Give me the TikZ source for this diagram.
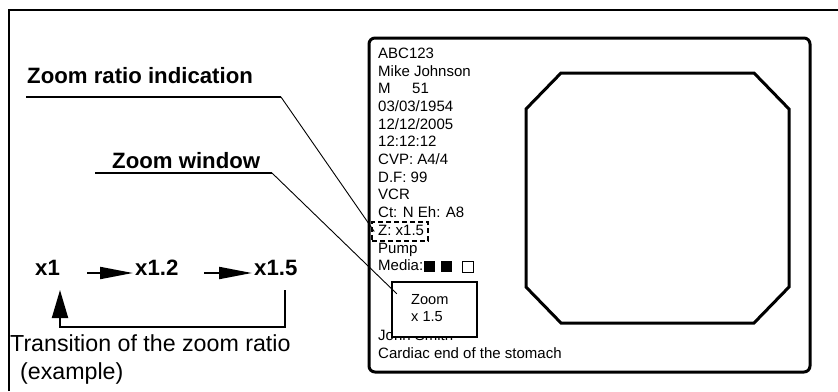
\documentclass[tikz,border=0pt]{standalone}
\usepackage{fontspec}
\setmainfont{Liberation Sans}
\usetikzlibrary{arrows.meta}
\tikzset{
  mtext/.style={anchor=base west, inner sep=0pt, font=\fontsize{15}{18}\selectfont},
  wtext/.style={anchor=base west, inner sep=0pt, font=\fontsize{14.6}{18}\selectfont},
  lab/.style={anchor=base west, inner sep=0pt, font=\bfseries\fontsize{22.2}{26}\selectfont},
  ltext/.style={anchor=base west, inner sep=0pt, font=\fontsize{23.2}{27}\selectfont},
  uline/.style={line width=2pt},
  leader/.style={line width=0.9pt},
  zarrow/.style={line width=2pt, -{Triangle[length=33pt,width=12pt]}},
  backarrow/.style={line width=2pt, -{Triangle[length=28pt,width=16pt]}},
  thickframe/.style={line width=3pt},
}
\begin{document}
\begin{tikzpicture}[x=1pt,y=-1pt]
\useasboundingbox (0,0) rectangle (838,391);
% outer frame (runs off the picture right and bottom)
\draw[line width=2.6pt] (9,391) -- (9,10) -- (838,10);

% monitor
\node[draw, thickframe, rounded corners=6pt, minimum width=441pt, minimum height=334pt, inner sep=0pt] (mon) at (589.5,205) {};
\draw[thickframe] (561,73) -- (754,73) -- (789,109) -- (789,287) -- (754,323) -- (561,323) -- (526,287) -- (526,109) -- cycle;

% monitor text
\node[mtext] (l0) at (378,58.3) {ABC123};
\node[mtext] (l1) at (378,76.0) {Mike Johnson};
\node[mtext] (l2) at (378,93.7) {M};
\node[mtext] (l2b) at (412,93.7) {51};
\node[mtext] (l3) at (378,111.4) {03/03/1954};
\node[mtext] (l4) at (378,129.1) {12/12/2005};
\node[mtext] (l5) at (378,146.8) {12:12:12};
\node[mtext] (l6) at (378,164.5) {CVP: A4/4};
\node[mtext] (l7) at (378,182.2) {D.F: 99};
\node[mtext] (l8) at (378,199.9) {VCR};
\node[mtext] (l9) at (378,217.6) {Ct: N Eh: A8};
\node[mtext] (l10) at (378,235.3) {Z: x1.5};
\node[mtext] (l11) at (378,253.0) {Pump};
\node[mtext] (l12) at (378,270.7) {Media:};
\node[fill=black, minimum size=11pt, inner sep=0pt] (sq1) at (429.5,266.5) {};
\node[fill=black, minimum size=11pt, inner sep=0pt] (sq2) at (446.5,266.5) {};
\node[draw, line width=0.8pt, minimum size=11pt, inner sep=0pt] (sq3) at (467.5,266.5) {};
\node[mtext] (l13) at (378,340) {John Smith};
\node[mtext] (l14) at (378,358) {Cardiac end of the stomach};

% dashed zoom ratio box
\node[draw, dash pattern=on 5pt off 3pt, line width=1.5pt, minimum width=56pt, minimum height=19pt, inner sep=0pt] (zr) at (400,231.5) {};

% zoom window
\node[draw, fill=white, line width=2.5pt, minimum width=85pt, minimum height=55pt, inner sep=0pt] (zw) at (434.5,309.5) {};
\node[wtext] (zw1) at (411,304) {Zoom};
\node[wtext] (zw2) at (411,321.7) {x 1.5};

% labels with underlines and leaders
\node[lab] (lab1) at (27,83.3) {Zoom ratio indication};
\coordinate (u1a) at (26,97);
\coordinate (u1b) at (281,97);
\draw[uline] (u1a) -- (u1b);
\draw[leader] (u1b) -- ([xshift=3pt]zr.west);

\node[lab] (lab2) at (112,168) {Zoom window};
\coordinate (u2a) at (95,173);
\coordinate (u2b) at (272,173);
\draw[uline] (u2a) -- (u2b);
\draw[leader] (u2b) -- ([xshift=6pt,yshift=-13pt]zw.north west);

% zoom ratio transition
\node[lab] (x1) at (35,275) {x1};
\node[lab] (x12) at (135,275) {x1.2};
\node[lab] (x15) at (254,275) {x1.5};
\coordinate (a1s) at (87,273);
\coordinate (a1e) at (133,273);
\coordinate (a2s) at (204,273);
\coordinate (a2e) at (252,273);
\draw[zarrow] (a1s) -- (a1e);
\draw[zarrow] (a2s) -- (a2e);
\coordinate (r1) at (285,290);
\coordinate (r2) at (285,327);
\coordinate (r3) at (60,327);
\coordinate (r4) at (60,290);
\draw[backarrow] (r1) -- (r2) -- (r3) -- (r4);

\node[ltext] (t1) at (10,351.7) {Transition of the zoom ratio};
\node[ltext] (t2) at (20,379) {(example)};
\end{tikzpicture}
\end{document}
